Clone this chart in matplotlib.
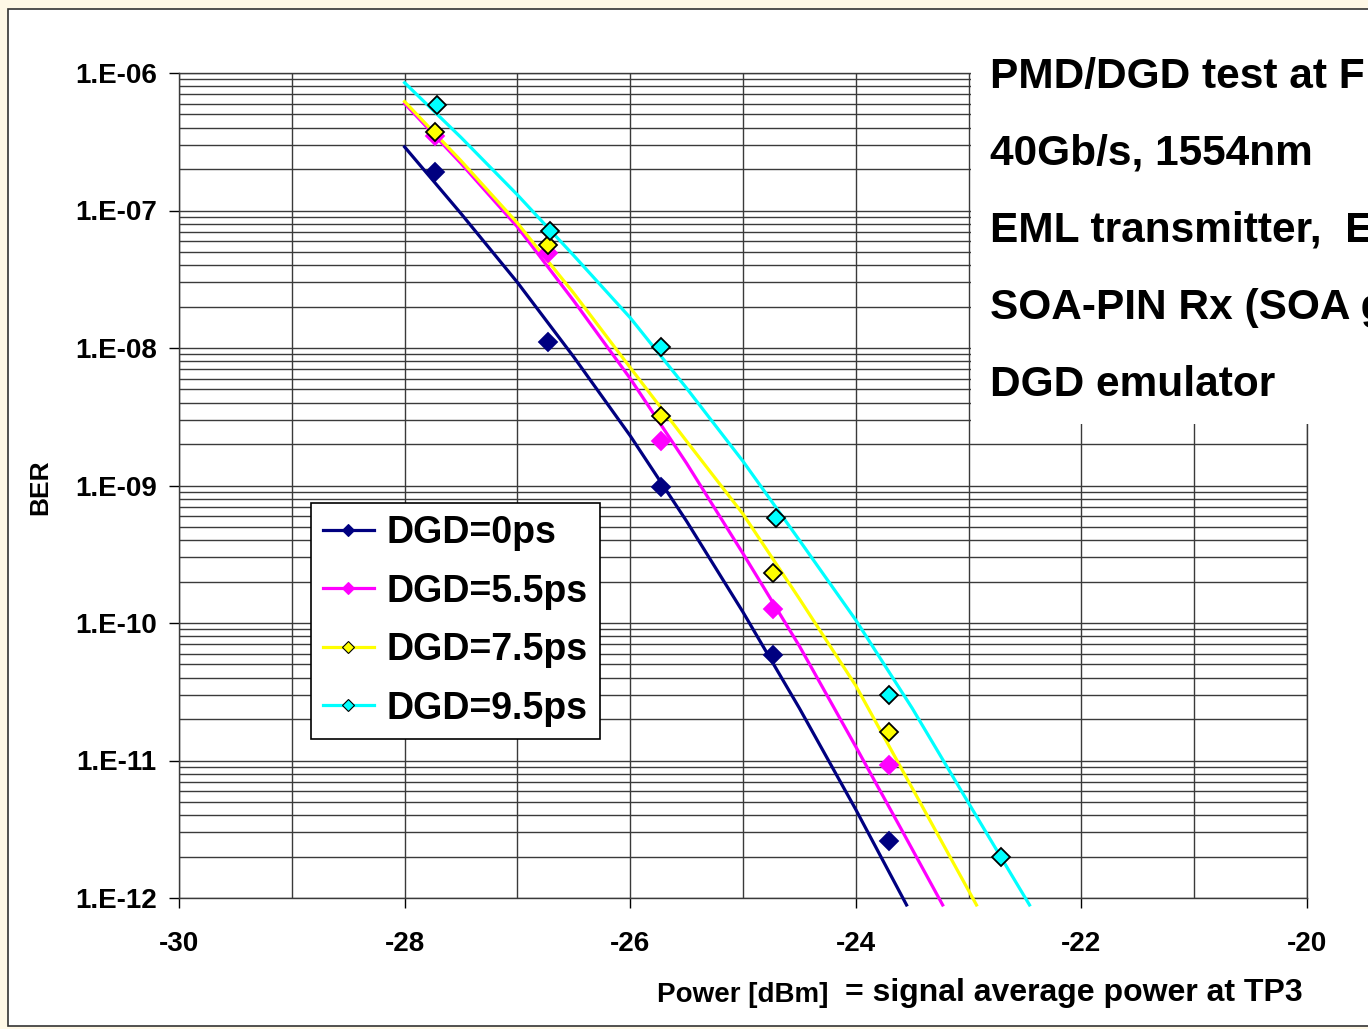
import numpy as np
import matplotlib
matplotlib.use("Agg")
import matplotlib.pyplot as plt
from matplotlib.lines import Line2D
from matplotlib.patches import Rectangle
from matplotlib.ticker import FixedLocator, FuncFormatter, NullFormatter

plt.rcParams['font.family'] = ['Liberation Sans', 'DejaVu Sans']
plt.rcParams['font.weight'] = 'bold'
plt.rcParams['axes.unicode_minus'] = False

# measured points (power dBm, BER)
x_meas = [-27.73, -26.73, -25.73, -24.73, -23.71]
ber_0ps = [1.9e-7, 1.1e-8, 9.8e-10, 5.9e-11, 2.6e-12]
ber_55ps = [3.5e-7, 4.9e-8, 2.1e-9, 1.26e-10, 9.3e-12]
ber_75ps = [3.7e-7, 5.6e-8, 3.2e-9, 2.3e-10, 1.6e-11]
x_meas_95 = [-27.71, -26.71, -25.73, -24.71, -23.71, -22.71]
ber_95ps = [5.85e-7, 7.1e-8, 1.02e-8, 5.8e-10, 3.0e-11, 2.0e-12]

# fitted curves
fit_x_0 = [-28, -27.5, -27, -26.5, -26, -25.5, -25, -24.5, -24, -23.55]
fit_0 = [2.9e-7, 9.5e-8, 3.0e-8, 8.6e-9, 2.3e-9, 5.5e-10, 1.2e-10, 2.4e-11, 4.4e-12, 8.9e-13]
fit_x_55 = [-28, -27.5, -27, -26.5, -26, -25.5, -25, -24.5, -24, -23.6, -23.23]
fit_55 = [6.0e-7, 2.2e-7, 7.6e-8, 2.2e-8, 6.0e-9, 1.45e-9, 3.2e-10, 6.8e-11, 1.26e-11, 3.2e-12, 8.9e-13]
fit_x_75 = [-28, -27.5, -27, -26.5, -26, -25.5, -25, -24.5, -24, -23.5, -22.93]
fit_75 = [6.2e-7, 2.3e-7, 8.1e-8, 2.5e-8, 7.2e-9, 2.1e-9, 6.2e-10, 1.5e-10, 3.5e-11, 6.3e-12, 8.9e-13]
fit_x_95 = [-28, -27.5, -27, -26.5, -26, -25.5, -25, -24.5, -24, -23.5, -23, -22.46]
fit_95 = [8.5e-7, 3.4e-7, 1.3e-7, 4.7e-8, 1.66e-8, 5.1e-9, 1.5e-9, 4.0e-10, 1.05e-10, 2.4e-11,
          4.9e-12, 8.9e-13]

labels = ["DGD=0ps", "DGD=5.5ps", "DGD=7.5ps", "DGD=9.5ps"]
colors = ["#000080", "#FF00FF", "#FFFF00", "#00FFFF"]

info_lines = ["PMD/DGD test at F", "40Gb/s, 1554nm", "EML transmitter,  E",
              "SOA-PIN Rx (SOA g", "DGD emulator"]

W, H = 1368, 1029
fig = plt.figure(figsize=(W / 100, H / 100), dpi=100)
fig.patch.set_facecolor("#FFF8E6")
fig.patches.append(Rectangle((8 / W, 1 - 1026 / H), 1.1, (1026 - 9) / H,
                             transform=fig.transFigure, facecolor="white",
                             edgecolor="#333333", lw=1.2, zorder=-5))

ax = fig.add_axes([179 / W, 1 - 898 / H, (1307 - 179) / W, (898 - 73) / H])
ax.set_facecolor("none")
ax.set_yscale("log")
ax.set_xlim(-30, -20)
ax.set_ylim(1e-12, 1e-6)

ax.xaxis.set_major_locator(FixedLocator(np.arange(-30, -19, 2)))
ax.xaxis.set_minor_locator(FixedLocator(np.arange(-29, -20, 2)))
ax.yaxis.set_major_formatter(FuncFormatter(lambda v, p: "1.E%03d" % round(np.log10(v))))
ax.yaxis.set_minor_formatter(NullFormatter())
ax.grid(True, which="both", color="#3a3a3a", lw=1.0)
ax.tick_params(axis="y", which="major", direction="out", length=7, width=1,
               labelsize=20, pad=9)
ax.tick_params(axis="y", which="minor", length=0)
ax.tick_params(axis="x", which="major", direction="out", length=7, width=1,
               labelsize=20, pad=17)
ax.tick_params(axis="x", which="minor", length=0)
for s in ax.spines.values():
    s.set_color("#3a3a3a")
    s.set_linewidth(1.0)

fits = [(fit_x_0, fit_0), (fit_x_55, fit_55), (fit_x_75, fit_75), (fit_x_95, fit_95)]
meas = [(x_meas, ber_0ps), (x_meas, ber_55ps), (x_meas, ber_75ps), (x_meas_95, ber_95ps)]
for i in range(4):
    ax.plot(fits[i][0], fits[i][1], color=colors[i], lw=2.3, clip_on=False, zorder=3)
for i in range(4):
    edge = colors[i] if i < 2 else "black"
    ax.plot(meas[i][0], meas[i][1], ls="none", marker="D", ms=9.5,
            mfc=colors[i], mec=edge, mew=1.3, zorder=4)

handles = []
for i in range(4):
    edge = colors[i] if i < 2 else "black"
    handles.append(Line2D([], [], color=colors[i], lw=2.3, marker="D", ms=6.5,
                          mfc=colors[i], mec=edge, mew=0.8))
leg = fig.legend(handles, labels, loc="upper left",
                 bbox_to_anchor=(311 / W, 1 - 503 / H), bbox_transform=fig.transFigure,
                 borderaxespad=0, fontsize=27, handlelength=1.35, handletextpad=0.35,
                 borderpad=0.32, labelspacing=0.6, fancybox=False, framealpha=1,
                 edgecolor="black")
leg.get_frame().set_linewidth(1.2)
for t in leg.get_texts():
    t.set_fontweight("bold")

# white text panel on the right, covering the grid
fig.patches.append(Rectangle((971 / W, 1 - 424 / H), (W - 971) / W, (424 - 20) / H,
                             transform=fig.transFigure, facecolor="white",
                             edgecolor="none", zorder=2))
for k, line in enumerate(info_lines):
    fig.text(990 / W, 1 - (77 + 77 * k) / H, line, fontsize=30.5, fontweight="bold",
             ha="left", va="center", zorder=5)

fig.text(40 / W, 1 - 487 / H, "BER", rotation=90, fontsize=19, fontweight="bold",
         ha="center", va="center")
fig.text(657 / W, 1 - 995 / H, "Power [dBm]", fontsize=20, fontweight="bold",
         ha="left", va="center")
fig.text(1303 / W, 1 - 993 / H, "= signal average power at TP3", fontsize=23,
         fontweight="bold", ha="right", va="center")

fig.savefig("out.png", dpi=100, facecolor=fig.get_facecolor())
